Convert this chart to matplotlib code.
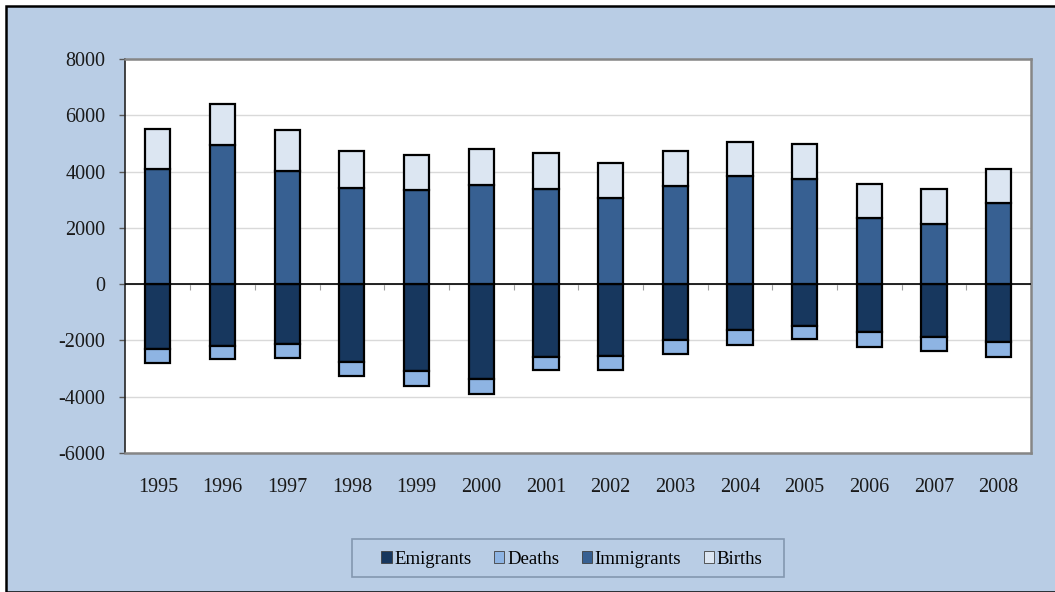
import matplotlib
matplotlib.use("Agg")
import matplotlib.pyplot as plt
from matplotlib.patches import Rectangle, Patch
import numpy as np

years = ["1995", "1996", "1997", "1998", "1999", "2000", "2001",
         "2002", "2003", "2004", "2005", "2006", "2007", "2008"]
emigrants = [-2300, -2215, -2144, -2772, -3080, -3365, -2605,
             -2547, -1990, -1635, -1481, -1718, -1872, -2061]
deaths = [-510, -460, -486, -497, -556, -533, -451,
          -497, -509, -533, -473, -533, -498, -521]
immigrants = [4076, 4940, 4005, 3412, 3340, 3507, 3365,
              3067, 3494, 3838, 3743, 2335, 2144, 2868]
births = [1420, 1446, 1457, 1304, 1256, 1302, 1279,
          1233, 1244, 1197, 1232, 1208, 1232, 1208]

plt.rcParams['font.family'] = ['Liberation Serif', 'DejaVu Serif']
plt.rcParams['axes.unicode_minus'] = False

W, H = 1055, 592
fig = plt.figure(figsize=(W / 100, H / 100), dpi=100)
fig.patch.set_facecolor('white')

bg = '#B9CDE5'
fig.patches.append(Rectangle((6 / W, 0), 1.2, 1 - 6 / H, transform=fig.transFigure,
                             facecolor=bg, edgecolor='black', linewidth=1.8, zorder=-5))

left, right, top, bottom = 125.5, 1031, 59, 453
ax = fig.add_axes([left / W, 1 - bottom / H, (right - left) / W, (bottom - top) / H])
ax.set_zorder(1)
ax.set_facecolor('white')

c_emig = '#17375E'
c_death = '#8EB4E3'
c_imm = '#376092'
c_birth = '#DCE6F2'

x = np.arange(len(years))
w = 0.39
emig = np.array(emigrants)
dth = np.array(deaths)
imm = np.array(immigrants)
bir = np.array(births)
kw = dict(width=w, edgecolor='black', linewidth=1.6, zorder=3)
ax.bar(x, emig, color=c_emig, **kw)
ax.bar(x, dth, bottom=emig, color=c_death, **kw)
ax.bar(x, imm, color=c_imm, **kw)
ax.bar(x, bir, bottom=imm, color=c_birth, **kw)

ax.set_xlim(-0.5, len(years) - 0.5)
ax.set_ylim(-6000, 8000)
ax.set_yticks(np.arange(-6000, 8001, 2000))
ax.yaxis.grid(True, color='#D9D9D9', linewidth=1, zorder=0)
ax.set_axisbelow(True)
ax.axhline(0, color='black', linewidth=1.2, zorder=4)

ax.set_xticks(x)
ax.set_xticklabels(years)
ax.tick_params(axis='x', length=0, pad=18, labelsize=14.5, labelcolor='#1a1a1a')
ax.tick_params(axis='y', length=4.5, width=1, color='#595959', pad=10,
               labelsize=14.5, direction='out', labelcolor='#1a1a1a')

for s in ['top', 'right', 'bottom']:
    ax.spines[s].set_color('#868686')
    ax.spines[s].set_linewidth(1.8)
ax.spines['left'].set_color('#262626')
ax.spines['left'].set_linewidth(1.2)

sec = ax.secondary_xaxis(6000 / 14000)
sec.set_xticks(np.arange(0.5, len(years) - 1, 1.0))
sec.set_xticklabels([])
sec.tick_params(axis='x', direction='out', length=4, width=0.8, color='#A0A0A0')
sec.spines['bottom'].set_visible(False)

fig.patches.append(Rectangle((352 / W, 1 - 577 / H), (784 - 352) / W, (577 - 539) / H,
                             transform=fig.transFigure, facecolor='none',
                             edgecolor='#8497B0', linewidth=1.2, zorder=2))
handles = [Patch(facecolor=c_emig, edgecolor='#404040', linewidth=0.6, label='Emigrants'),
           Patch(facecolor=c_death, edgecolor='#404040', linewidth=0.6, label='Deaths'),
           Patch(facecolor=c_imm, edgecolor='#404040', linewidth=0.6, label='Immigrants'),
           Patch(facecolor=c_birth, edgecolor='#404040', linewidth=0.6, label='Births')]
fig.legend(handles=handles, loc='center', bbox_to_anchor=(572 / W, 1 - 559 / H),
           ncol=4, frameon=False, fontsize=13.5, handlelength=0.55, handleheight=0.55,
           handletextpad=0.15, columnspacing=1.2, borderpad=0)

fig.savefig('out.png', dpi=100, facecolor=fig.get_facecolor())
